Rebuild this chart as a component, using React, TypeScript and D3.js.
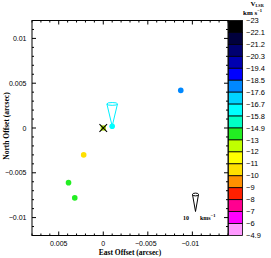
import React from "react";
import * as d3 from "d3";

// ---- data ----
const spotEast = [-0.0087, -0.001, 0.0022, 0.0039, 0.0032];
const spotNorth = [0.0042, 0.0002, -0.003, -0.0061, -0.0078];
const spotVlsr = [-18.0, -16.2, -10.5, -14.0, -14.0];

const vecEast = [-0.001];
const vecNorth = [0.0002];
const vecVE = [0];
const vecVN = [13.1];
const vecWidth = [5.3];

const refEast = [0];
const refNorth = [0];

const cbEdges = [-23, -22.1, -21.2, -20.3, -19.4, -18.5, -17.6, -16.7, -15.8, -14.9, -13, -12, -11, -10, -9, -8, -7, -6, -4.9];
const cbLabels = ["−23", "−22.1", "−21.2", "−20.3", "−19.4", "−18.5", "−17.6", "−16.7", "−15.8", "−14.9", "−13", "−12", "−11", "−10", "−9", "−8", "−7", "−6", "−4.9"];
const cbColors = ["#000000", "#00003c", "#000070", "#0000b0", "#0000ff", "#0088ff", "#00d4ff", "#00ffff", "#00ffc4", "#22ee22", "#c0ff00", "#ffff00", "#ffe000", "#ff9000", "#ff2000", "#ff0090", "#ff00ff", "#ff99ff"];

const xTickValues = [0.005, 0, -0.005, -0.01];
const xTickLabels = ["0.005", "0", "−0.005", "−0.01"];
const yTickValues = [0.01, 0.005, 0, -0.005, -0.01];
const yTickLabels = ["0.01", "0.005", "0", "−0.005", "−0.01"];
const xDomain = [0.008, -0.014];
const yDomain = [-0.012, 0.012];
const minorStep = 0.001;

const scaleVelocity = [10];

export default function App() {
  const L = 32, R = 228, T = 20.5, B = 235.5;
  const x = d3.scaleLinear().domain(xDomain).range([L, R]);
  const y = d3.scaleLinear().domain(yDomain).range([B, T]);
  const vpx = d3.scaleLinear().domain([0, 10]).range([0, 17]);

  const minorX = d3.range(Math.round(xDomain[1] / minorStep), Math.round(xDomain[0] / minorStep) + 1).map((i) => i * minorStep);
  const minorY = d3.range(Math.round(yDomain[0] / minorStep), Math.round(yDomain[1] / minorStep) + 1).map((i) => i * minorStep);
  const isMajor = (v: number) => Math.abs(Math.round(v / minorStep)) % 5 === 0;

  const cbIdx = d3.scaleLinear().domain([0, cbEdges.length - 1]).range([T, B]);
  const colorFor = (v: number) => {
    const i = d3.bisectRight(cbEdges, v) - 1;
    return cbColors[Math.max(0, Math.min(cbColors.length - 1, i))];
  };

  const cone = (cx: number, cy: number, ve: number, vn: number, hw: number, color: string, key: string) => {
    const len = vpx(Math.hypot(ve, vn));
    const ang = Math.atan2(vn, -ve); // screen: east positive => left
    const dx = Math.cos(ang), dy = -Math.sin(ang);
    const bx = cx + dx * len, by = cy + dy * len;
    const px = -dy, py = dx;
    const p = d3.path();
    p.moveTo(cx, cy);
    p.lineTo(bx + px * hw, by + py * hw);
    p.moveTo(cx, cy);
    p.lineTo(bx - px * hw, by - py * hw);
    const rot = (Math.atan2(py, px) * 180) / Math.PI;
    return (
      <g key={key} stroke={color} fill="none" strokeWidth={1}>
        <path d={p.toString()} />
        <ellipse cx={bx} cy={by} rx={hw} ry={1.4} transform={`rotate(${rot} ${bx} ${by})`} />
      </g>
    );
  };

  const sans = "Liberation Sans, Arial, sans-serif";
  const serif = "Liberation Serif, Times, serif";

  return (
    <svg width={271} height={258} style={{ position: "absolute", left: 0, top: 0, background: "#fff" }}>
      {/* vectors */}
      {vecEast.map((e, i) => cone(x(e), y(vecNorth[i]), vecVE[i], vecVN[i], vecWidth[i], "#00f0ff", "v" + i))}
      {/* spots */}
      {spotEast.map((e, i) => (
        <circle key={"s" + i} cx={x(e)} cy={y(spotNorth[i])} r={2.8} fill={colorFor(spotVlsr[i])} />
      ))}
      {/* reference marker */}
      {refEast.map((e, i) => {
        const cx = x(e), cy = y(refNorth[i]);
        return (
          <g key={"r" + i}>
            <rect x={cx - 2.6} y={cy - 2.6} width={5.2} height={5.2} fill="#a8d800" />
            <path d={`M${cx - 3.8},${cy - 3.8}L${cx + 3.8},${cy + 3.8}M${cx - 3.8},${cy + 3.8}L${cx + 3.8},${cy - 3.8}`} stroke="#000" strokeWidth={1.1} />
          </g>
        );
      })}
      {/* scale vector */}
      {scaleVelocity.map((v, i) => (
        <g key={"sc" + i}>
          {cone(195.5, 211.5, 0, v, 3, "#000", "scv")}
          <text x={186} y={219.5} fontFamily={serif} fontSize={6} fontWeight="bold" textAnchor="middle">{v}</text>
          <text x={200} y={219.5} fontFamily={serif} fontSize={6} fontWeight="bold">
            kms<tspan dy={-2.5} fontSize={4.5}>−1</tspan>
          </text>
        </g>
      ))}
      {/* frame */}
      <rect x={L} y={T} width={R - L} height={B - T} fill="none" stroke="#000" strokeWidth={1} />
      {minorX.map((v, i) => {
        const len = isMajor(v) ? 4 : 2;
        return (
          <g key={"tx" + i} stroke="#000" strokeWidth={1}>
            <line x1={x(v)} x2={x(v)} y1={B} y2={B - len} />
            <line x1={x(v)} x2={x(v)} y1={T} y2={T + len} />
          </g>
        );
      })}
      {minorY.map((v, i) => {
        const len = isMajor(v) ? 4 : 2;
        return (
          <g key={"ty" + i} stroke="#000" strokeWidth={1}>
            <line x1={L} x2={L + len} y1={y(v)} y2={y(v)} />
            <line x1={R} x2={R - len} y1={y(v)} y2={y(v)} />
          </g>
        );
      })}
      {xTickValues.map((v, i) => (
        <text key={"xl" + i} x={x(v) - (xTickLabels[i].startsWith("−") ? 2 : 0)} y={245.5} fontFamily={sans} fontSize={7} textAnchor="middle">
          {xTickLabels[i]}
        </text>
      ))}
      {yTickValues.map((v, i) => (
        <text key={"yl" + i} x={26.5} y={y(v) + 2.5} fontFamily={sans} fontSize={7} textAnchor="end">
          {yTickLabels[i]}
        </text>
      ))}
      <text x={130} y={254.5} fontFamily={serif} fontSize={7.5} fontWeight="bold" textAnchor="middle">East Offset (arcsec)</text>
      <text transform="translate(9,126) rotate(-90)" fontFamily={serif} fontSize={7.5} fontWeight="bold" textAnchor="middle">North Offset (arcsec)</text>
      {/* colorbar */}
      {cbColors.map((c, i) => (
        <rect key={"cb" + i} x={228.5} y={cbIdx(i)} width={14} height={cbIdx(i + 1) - cbIdx(i)} fill={c} stroke="#000" strokeWidth={0.8} />
      ))}
      {cbLabels.map((l, i) => (
        <text key={"cbl" + i} x={246} y={cbIdx(i) + 2.6} fontFamily={sans} fontSize={7.5}>{l}</text>
      ))}
      <text x={250.5} y={5.5} fontFamily={serif} fontSize={7} fontWeight="bold">
        V<tspan dy={1.2} fontSize={4.2}>LSR</tspan>
      </text>
      <text x={243} y={15} fontFamily={serif} fontSize={7} fontWeight="bold">
        km s<tspan dy={-3} fontSize={4.5}>−1</tspan>
      </text>
    </svg>
  );
}
